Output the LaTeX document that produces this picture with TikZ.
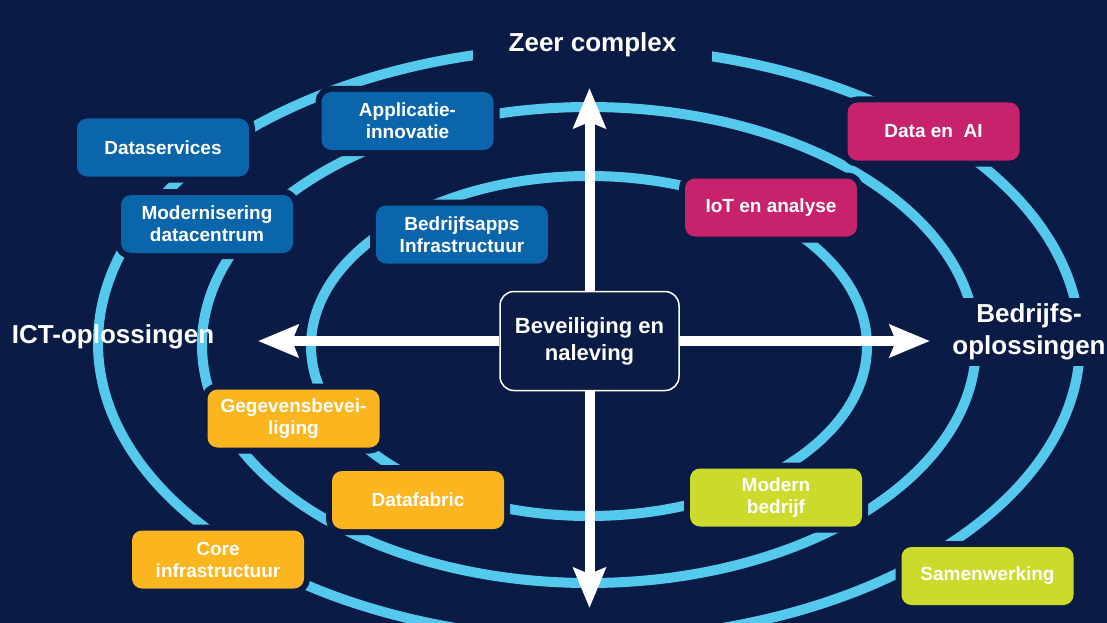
\documentclass[tikz,border=0pt]{standalone}
\usepackage{fontspec}
\setmainfont{Liberation Sans}
\usetikzlibrary{arrows.meta}
\definecolor{bg}{HTML}{0A1B46}
\definecolor{ring}{HTML}{55C9ED}
\definecolor{cblue}{HTML}{0A65AA}
\definecolor{cmag}{HTML}{C7226B}
\definecolor{corange}{HTML}{FBB51F}
\definecolor{clime}{HTML}{CCDB2B}
\tikzset{
  ringline/.style={draw=ring, line width=10pt},
  box/.style={rounded corners=10pt, minimum width=172pt, minimum height=58pt, inner sep=0pt,
    align=center, text=white, font=\bfseries\fontsize{19}{22}\selectfont,
    preaction={draw=bg, line width=12pt}},
  bluebox/.style={box, fill=cblue},
  magbox/.style={box, fill=cmag},
  orbox/.style={box, fill=corange},
  limebox/.style={box, fill=clime},
  cbox/.style={draw=white, line width=1.5pt, fill=bg, rounded corners=14pt, minimum width=179pt,
    minimum height=99pt, inner sep=0pt, align=center, text=white, font=\bfseries\fontsize{22}{27}\selectfont},
  arr/.style={draw=white, line width=10pt, -{Stealth[length=40pt,width=32pt,inset=6pt]}},
  lab/.style={text=white, font=\bfseries\fontsize{26}{32}\selectfont, align=center, inner sep=0pt},
}
\begin{document}
\begin{tikzpicture}[x=1pt,y=-1pt]
\fill[bg] (0,0) rectangle (1107,623);
\useasboundingbox (0,0) rectangle (1107,623);
% rings
\draw[ringline] (589,343) ellipse [x radius=491pt, y radius=296pt];
\draw[ringline] (589,345) ellipse [x radius=387pt, y radius=238pt];
\draw[ringline] (589,346) ellipse [x radius=278pt, y radius=170pt];
% labels (two of them mask the rings)
\node[lab, fill=bg, minimum width=239pt, minimum height=40pt] (zeer) at (592.5,45) {Zeer complex};
\node[lab, fill=bg, minimum width=170pt, minimum height=68pt] (bedr) at (1029,332) {Bedrijfs-\\oplossingen};
\node[lab] (ict) at (113,337) {ICT-oplossingen};
% centre and arrows
\node[cbox] (c) at (589.5,341) {Beveiliging en\\naleving};
\coordinate (tipN) at (589.5,88);
\coordinate (tipS) at (589.5,608);
\coordinate (tipW) at (258,341);
\coordinate (tipE) at (930,341);
\draw[arr] (c.north) -- (tipN);
\draw[arr] (c.south) -- (tipS);
\draw[arr] (c.west) -- (tipW);
\draw[arr] (c.east) -- (tipE);
% boxes
\node[bluebox] (ds) at (163,147.5) {Dataservices};
\node[bluebox] (ai) at (407.5,121) {Applicatie-\\innovatie};
\node[bluebox] (md) at (207,224) {Modernisering\\datacentrum};
\node[bluebox] (ba) at (462,234.5) {Bedrijfsapps\\Infrastructuur};
\node[magbox] (dai) at (933.5,131.5) {Data en~ AI};
\node[magbox] (iot) at (771,207.5) {IoT en analyse};
\node[orbox] (gb) at (293.5,418.5) {Gegevensbevei-\\liging};
\node[orbox] (df) at (418,500) {Datafabric};
\node[orbox] (ci) at (218,559.5) {Core\\infrastructuur};
\node[limebox] (mb) at (776,497.5) {Modern\\bedrijf};
\node[limebox] (sw) at (987.5,576) {Samenwerking};
\end{tikzpicture}
\end{document}
